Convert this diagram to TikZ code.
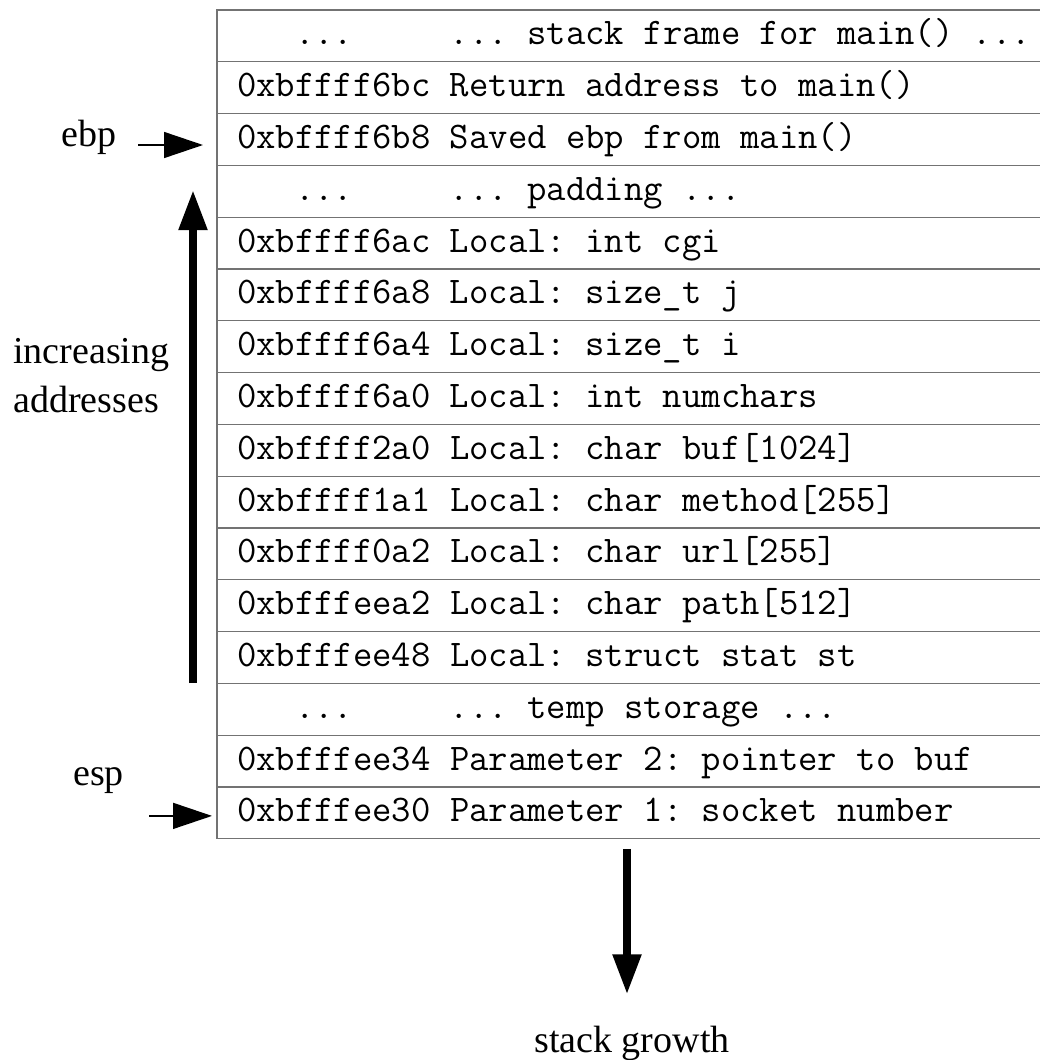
\documentclass[tikz,border=0pt]{standalone}
\usepackage{fontspec}
\setmainfont{Liberation Serif}
\usetikzlibrary{positioning,arrows.meta}
\setlength{\parindent}{0pt}

\tikzset{
  slot/.style={draw=black!55, line width=1.2pt, anchor=north west, minimum height=51.8pt,
    text width=800pt, align=left, inner xsep=20pt, inner ysep=0pt, outer sep=0pt,
    text height=22pt, text depth=4pt, font=\ttfamily\fontsize{37.6}{42}\selectfont,
    execute at begin node={\settowidth{\spaceskip}{0}\xspaceskip=\spaceskip}},
  lbl/.style={inner sep=0pt, font=\fontsize{38}{49}\selectfont},
  ptr/.style={line width=1.5pt, -{Triangle[length=39pt,width=26pt]}},
  bigarrow/.style={line width=8pt, -{Triangle[length=40pt,width=27pt]}},
}

\begin{document}
\begin{tikzpicture}[x=1pt,y=1pt]
\useasboundingbox (0,0) rectangle (1040,-1060);

% stack slots
\node[slot] (r1) at (217,-10) {\hphantom{000}...\hphantom{00000}... stack frame for main() ...};
\node[slot, below=0pt of r1] (r2) {0xbffff6bc Return address to main()};
\node[slot, below=0pt of r2] (r3) {0xbffff6b8 Saved ebp from main()};
\node[slot, below=0pt of r3] (r4) {\hphantom{000}...\hphantom{00000}... padding ...};
\node[slot, below=0pt of r4] (r5) {0xbffff6ac Local: int cgi};
\node[slot, below=0pt of r5] (r6) {0xbffff6a8 Local: size\_t j};
\node[slot, below=0pt of r6] (r7) {0xbffff6a4 Local: size\_t i};
\node[slot, below=0pt of r7] (r8) {0xbffff6a0 Local: int numchars};
\node[slot, below=0pt of r8] (r9) {0xbffff2a0 Local: char buf[1024]};
\node[slot, below=0pt of r9] (r10) {0xbffff1a1 Local: char method[255]};
\node[slot, below=0pt of r10] (r11) {0xbffff0a2 Local: char url[255]};
\node[slot, below=0pt of r11] (r12) {0xbfffeea2 Local: char path[512]};
\node[slot, below=0pt of r12] (r13) {0xbfffee48 Local: struct stat st};
\node[slot, below=0pt of r13] (r14) {\hphantom{000}...\hphantom{00000}... temp storage ...};
\node[slot, below=0pt of r14] (r15) {0xbfffee34 Parameter 2: pointer to buf};
\node[slot, below=0pt of r15] (r16) {0xbfffee30 Parameter 1: socket number};

% registers
\node[lbl, anchor=base west] (ebp) at (61,-146) {ebp};
\coordinate (ebptip) at ([yshift=-5.5pt]r3.west);
\draw[ptr, shorten <=22pt, shorten >=14pt] (ebp.east |- ebptip) -- (ebptip);

\node[lbl, anchor=base west] (esp) at (73,-785) {esp};
\coordinate (esptip) at ([yshift=-3pt]r16.west);
\coordinate (esptail) at ([xshift=-68pt]esptip);
\draw[ptr, shorten >=5pt] (esptail) -- (esptip);

% address direction
\node[lbl, anchor=west, align=left] (incr) at (13,-376) {increasing\\addresses};
\coordinate (incbot) at (193,-683);
\coordinate (inctop) at (193,-190);
\draw[bigarrow] (incbot) -- (inctop);

% growth direction
\node[lbl, anchor=base] (growth) at (632,-1052) {stack growth};
\draw[bigarrow, shorten <=10pt, shorten >=31pt] ([xshift=-5pt]r16.south -| growth.north) -- ([xshift=-5pt]growth.north);

\end{tikzpicture}
\end{document}
